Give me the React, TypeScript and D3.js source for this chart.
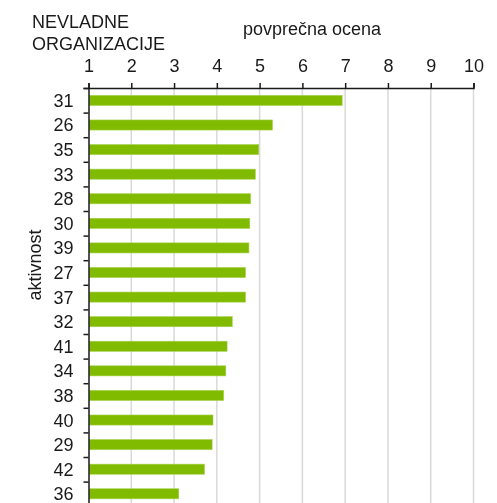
import { useRef, useEffect } from 'react';
import * as d3 from 'd3';

// ---------------------------------------------------------------------------
// Data
// ---------------------------------------------------------------------------
const CATEGORIES = ['31', '26', '35', '33', '28', '30', '39', '27', '37', '32', '41', '34', '38', '40', '29', '42', '36'];
const VALUES = [6.93, 5.3, 4.98, 4.9, 4.79, 4.77, 4.75, 4.67, 4.67, 4.36, 4.24, 4.21, 4.16, 3.91, 3.89, 3.71, 3.11];
const X_TICKS = [1, 2, 3, 4, 5, 6, 7, 8, 9, 10];

const GREEN = '#80bb00';
const GRID = '#d9d9d9';
const TEXT = '#1a1a1a';
const FONT = 'Liberation Sans, Arial, sans-serif';
const FS = '18px';

export default function App() {
  const svgRef = useRef<SVGSVGElement>(null);

  useEffect(() => {
    const svg = svgRef.current;
    if (!svg) return;
    const sel = d3.select(svg);
    sel.selectAll('*').remove();

    const width = 497;
    const height = 503;
    const margin = { top: 88, left: 88.5, right: 23.5 };
    const band = 24.6;
    const innerW = width - margin.left - margin.right;
    const innerH = band * CATEGORIES.length;

    sel.attr('width', width).attr('height', height).style('font-family', FONT);

    const g = sel.append('g').attr('transform', `translate(${margin.left},${margin.top})`);

    const x = d3.scaleLinear().domain([1, 10]).range([0, innerW]);
    const y = d3.scaleBand().domain(CATEGORIES).range([0, innerH]).paddingInner(0.59).paddingOuter(0.3);

    // Gridlines
    g.selectAll('line.grid')
      .data(X_TICKS.slice(1))
      .enter()
      .append('line')
      .attr('x1', (d) => x(d))
      .attr('x2', (d) => x(d))
      .attr('y1', 0)
      .attr('y2', innerH)
      .attr('stroke', GRID)
      .attr('stroke-width', 1.5);

    // Bars
    g.selectAll('rect.bar')
      .data(CATEGORIES)
      .enter()
      .append('rect')
      .attr('x', 1)
      .attr('y', (d) => y(d) ?? 0)
      .attr('width', (_, i) => x(VALUES[i]) - 1)
      .attr('height', y.bandwidth())
      .attr('fill', GREEN)
      .attr('stroke', '#a6d04a')
      .attr('stroke-width', 0.6);

    // Top axis
    const xAxis = d3.axisTop(x).tickValues(X_TICKS).tickSize(5).tickPadding(11).tickFormat((d) => `${d}`);
    const xg = g.append('g').call(xAxis);
    xg.select('.domain').attr('stroke', TEXT).attr('stroke-width', 1.5);
    xg.selectAll('.tick line').attr('stroke', TEXT).attr('stroke-width', 1.5);
    xg.selectAll('text').attr('fill', TEXT).attr('font-size', FS).attr('font-family', FONT);

    // Left axis (tick marks between categories)
    const yAxis = d3.axisLeft(d3.scaleLinear().domain([0, CATEGORIES.length]).range([0, innerH]))
      .tickValues(d3.range(0, CATEGORIES.length + 1))
      .tickSize(5)
      .tickFormat(() => '');
    const yg = g.append('g').call(yAxis);
    yg.select('.domain').attr('stroke', TEXT).attr('stroke-width', 1.5);
    yg.selectAll('.tick line').attr('stroke', TEXT).attr('stroke-width', 1.5);

    // Category labels
    g.selectAll('text.cat')
      .data(CATEGORIES)
      .enter()
      .append('text')
      .attr('x', -15)
      .attr('y', (d) => (y(d) ?? 0) + y.bandwidth() / 2)
      .attr('dy', '0.36em')
      .attr('text-anchor', 'end')
      .attr('fill', TEXT)
      .attr('font-size', FS)
      .text((d) => d);

    // Titles
    sel.append('text')
      .attr('x', 32)
      .attr('y', 28)
      .attr('fill', TEXT)
      .attr('font-size', FS)
      .text('NEVLADNE');
    sel.append('text')
      .attr('x', 32)
      .attr('y', 50)
      .attr('fill', TEXT)
      .attr('font-size', FS)
      .text('ORGANIZACIJE');
    sel.append('text')
      .attr('x', 243)
      .attr('y', 35)
      .attr('fill', TEXT)
      .attr('font-size', FS)
      .text('povprečna ocena');
    sel.append('text')
      .attr('transform', 'translate(41,265) rotate(-90)')
      .attr('text-anchor', 'middle')
      .attr('fill', TEXT)
      .attr('font-size', FS)
      .text('aktivnost');
  }, []);

  return (
    <div style={{ position: 'fixed', left: 0, top: 0, width: 497, height: 503, overflow: 'hidden' }}>
      <svg ref={svgRef} style={{ display: 'block' }} />
    </div>
  );
}
